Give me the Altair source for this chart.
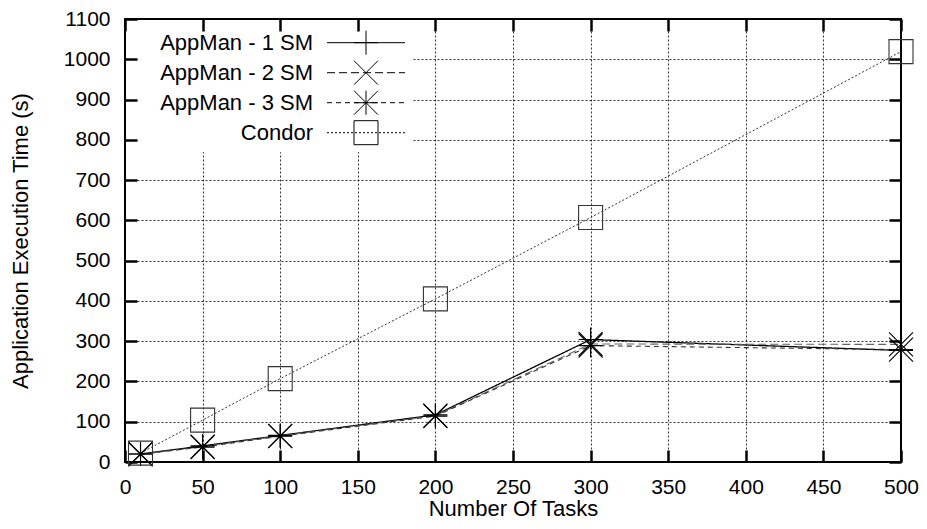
import altair as alt
import pandas as pd

# ---- data ----
tasks = [10, 50, 100, 200, 300, 500]
series_names = ["AppMan - 1 SM", "AppMan - 2 SM", "AppMan - 3 SM", "Condor"]
appman_1 = [20, 40, 66, 117, 304, 277]
appman_2 = [19, 38, 65, 115, 293, 292]
appman_3 = [20, 37, 64, 114, 289, 279]
condor = [22, 104, 207, 405, 607, 1019]
x_ticks = [0, 50, 100, 150, 200, 250, 300, 350, 400, 450, 500]
y_ticks = [0, 100, 200, 300, 400, 500, 600, 700, 800, 900, 1000, 1100]

values = [appman_1, appman_2, appman_3, condor]
rows = []
for name, vals in zip(series_names, values):
    for t, v in zip(tasks, vals):
        rows.append({"tasks": t, "time": v, "series": name})
df = pd.DataFrame(rows)

FONT = "Liberation Sans"

# ---- styles ----
line_colors = ["#000000", "#666666", "#333333", "#333333"]
line_dashes = [[1, 0], [8, 4], [5, 4], [2, 2]]
line_widths = [1.3, 1.1, 1.1, 1.0]

m_plus = "M-1,0L1,0M0,-1L0,1"
m_cross = "M-1,-1L1,1M-1,1L1,-1"
m_star = m_plus + m_cross
m_square = "M-1,-1L1,-1L1,1L-1,1Z"
markers = [m_plus, m_cross, m_star, m_square]
marker_colors = ["#000000", "#000000", "#000000", "#333333"]
MSIZE = 576  # 24 px marker


def dashed(half, dash, gap):
    if gap == 0:
        return f"M{-half},0L{half},0"
    parts = []
    x = -half
    while x < half - 1e-6:
        x2 = min(x + dash, half)
        parts.append(f"M{x:.3f},0L{x2:.3f},0")
        x += dash + gap
    return "".join(parts)


UNIT = 12.0  # px per path unit at size 576
HALF = 39.0 / UNIT
legend_paths = [
    dashed(HALF, d[0] / UNIT, d[1] / UNIT) + m for d, m in zip(line_dashes, markers)
]

x_scale = alt.Scale(domain=[0, 500], nice=False, zero=False)
y_scale = alt.Scale(domain=[0, 1100], nice=False, zero=False)

INWARD = alt.ExprRef(expr="-12")

label_x_axis = alt.Axis(
    orient="bottom", values=x_ticks, title="Number Of Tasks", format="d", grid=True,
    gridDash=[2, 2], gridColor="#000000", gridOpacity=0.8, gridWidth=1,
    ticks=True, tickSize=INWARD, tickWidth=2.5, tickColor="black", domain=False,
    labelFont=FONT, labelFontSize=21, labelColor="black", labelPadding=26,
    labelFlush=False, labelOverlap=False,
    titleFont=FONT, titleFontSize=22, titleFontWeight="normal", titleColor="black",
    titleY=46, titleAlign="center", titleBaseline="middle",
)
label_y_axis = alt.Axis(
    orient="left", values=y_ticks, title="Application Execution Time (s)", format="d",
    grid=True, gridDash=[2, 2], gridColor="#000000", gridOpacity=0.8, gridWidth=1,
    ticks=True, tickSize=INWARD, tickWidth=2.5, tickColor="black", domain=False,
    labelFont=FONT, labelFontSize=21, labelColor="black", labelPadding=27,
    labelFlush=False, labelOverlap=False,
    titleFont=FONT, titleFontSize=22, titleFontWeight="normal", titleColor="black",
    titleAngle=270, titleX=-105, titleY=221.5, titleAlign="center", titleBaseline="middle",
)


def tick_axis(orient, vals):
    return alt.Axis(
        orient=orient, values=vals, title=None, grid=False, domain=False,
        labels=False, ticks=True, tickSize=INWARD, tickWidth=2.5, tickColor="black",
        zindex=1,
    )


axes_plan = {
    (0, "line"): (label_x_axis, label_y_axis),
    (1, "line"): (tick_axis("top", x_ticks), tick_axis("right", y_ticks)),
}

base = alt.Chart(df)
line_layers = []
point_layers = []
for i, name in enumerate(series_names):
    ax_l = axes_plan.get((i, "line"), (None, None))
    line = base.transform_filter(alt.datum.series == name).mark_line(
        color=line_colors[i], strokeDash=line_dashes[i], strokeWidth=line_widths[i]
    ).encode(
        x=alt.X("tasks:Q", scale=x_scale, axis=ax_l[0]),
        y=alt.Y("time:Q", scale=y_scale, axis=ax_l[1]),
    )
    point = base.transform_filter(alt.datum.series == name).mark_point(
        shape=markers[i], size=MSIZE, filled=False, color=marker_colors[i],
        strokeWidth=1.1, opacity=1,
    ).encode(
        x=alt.X("tasks:Q", scale=x_scale, axis=None),
        y=alt.Y("time:Q", scale=y_scale, axis=None),
    )
    line_layers.append(line)
    point_layers.append(point)

legend_layer = base.transform_filter("false").mark_point(
    filled=False, color="black", opacity=1
).encode(
    shape=alt.Shape(
        "series:N",
        scale=alt.Scale(domain=series_names, range=legend_paths),
        legend=alt.Legend(
            title=None, orient="none", legendX=13, legendY=7.2, padding=4,
            fillColor="white", strokeColor="white",
            labelFont=FONT, labelFontSize=22, labelColor="black", labelAlign="right",
            labelOffset=alt.ExprRef(expr="-65.5"), labelLimit=400, labelBaseline="middle",
            symbolSize=MSIZE, symbolStrokeWidth=1, symbolStrokeColor="black",
            symbolFillColor="transparent", symbolOpacity=1, symbolOffset=211.5,
            rowPadding=1,
        ),
    )
)

chart = alt.layer(*line_layers, *point_layers, legend_layer).resolve_axis(
    x="independent", y="independent"
).properties(
    width=776, height=443,
    autosize=alt.AutoSizeParams(type="none"),
    padding={"left": 117, "top": 11, "right": 18, "bottom": 57},
    background="white",
).configure_view(stroke="black", strokeWidth=2)

chart.save("out.html", embed_options={"renderer": "svg", "actions": False})
